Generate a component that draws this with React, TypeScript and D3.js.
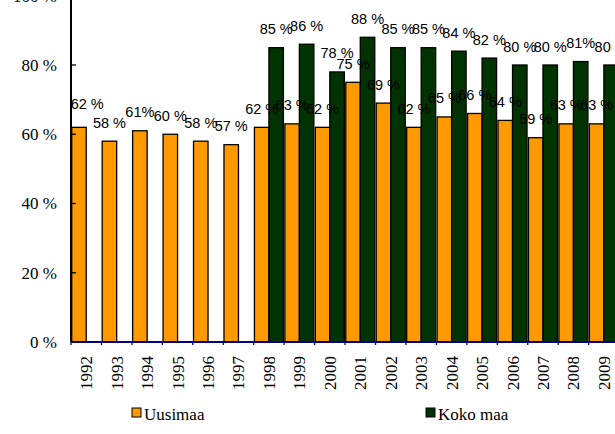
import React from "react";
import * as d3 from "d3";

const years = ["1992","1993","1994","1995","1996","1997","1998","1999","2000","2001","2002","2003","2004","2005","2006","2007","2008","2009"];
const uusimaa = [62,58,61,60,58,57,62,63,62,75,69,62,65,66,64,59,63,63];
const kokoMaa: (number | null)[] = [null,null,null,null,null,null,85,86,78,88,85,85,84,82,80,80,81,80];
const uusimaaLabels = ["62 %","58 %","61%","60 %","58 %","57 %","62 %","63 %","62 %","75 %","69 %","62 %","65 %","66 %","64 %","59 %","63 %","63 %"];
const kokoLabels = ["","","","","","","85 %","86 %","78 %","88 %","85 %","85 %","84 %","82 %","80 %","80 %","81%","80 %"];
const yTicks = [0,20,40,60,80,100];
const seriesNames = ["Uusimaa","Koko maa"];
const colors = ["#FF9900","#003300"];

export default function App() {
  const W = 615, H = 434;
  const x0 = 71, y0 = 342;
  const y = d3.scaleLinear().domain([0,100]).range([y0, y0 - 346.25]);
  const x = d3.scaleBand().domain(years).range([x0, x0 + 18 * 30.45]).paddingInner(0).paddingOuter(0);
  const bw = x.bandwidth() / 2.1;
  const off = bw * 0.05;
  const serif = "'Liberation Serif', 'Times New Roman', serif";
  const sans = "'Liberation Sans', Arial, sans-serif";
  const series = [uusimaa, kokoMaa];
  const labels = [uusimaaLabels, kokoLabels];
  const labelW = (s: string) => s.length * 7.6;
  return (
    <svg width={W} height={H} style={{ position: "absolute", left: 0, top: 0, background: "#fff" }}>
      {series.map((vals, si) =>
        vals.map((v, i) => {
          if (v == null) return null;
          const bx = (x(years[i]) as number) + off + si * bw;
          return (
            <rect key={`b${si}-${i}`} x={bx} y={y(v)} width={bw} height={y0 - y(v)}
              fill={colors[si]} stroke="#000" strokeWidth={1.3} />
          );
        })
      )}
      {/* y axis */}
      <line x1={x0} x2={x0} y1={-10} y2={y0} stroke="#000" strokeWidth={2} />
      {yTicks.map(t => (
        <g key={`yt${t}`}>
          <line x1={x0} x2={x0 + 5} y1={y(t)} y2={y(t)} stroke="#000" strokeWidth={1.3} />
          <text x={57} y={y(t)} dy="0.35em" textAnchor="end" fontFamily={serif} fontSize={17} fill="#000">{`${t} %`}</text>
        </g>
      ))}
      {/* x axis */}
      <line x1={x0} x2={W + 10} y1={y0} y2={y0} stroke="#000080" strokeWidth={2} />
      {years.map(yr => (
        <line key={`xt${yr}`} x1={x(yr) as number} x2={x(yr) as number} y1={y0} y2={y0 + 3} stroke="#000080" strokeWidth={1.3} />
      ))}
      {years.map(yr => {
        const cx = (x(yr) as number) + x.bandwidth() / 2;
        return (
          <text key={`xl${yr}`} transform={`translate(${cx + 6},${356}) rotate(-90)`} textAnchor="end"
            fontFamily={serif} fontSize={17} fill="#000">{yr}</text>
        );
      })}
      {/* data labels */}
      {series.map((vals, si) =>
        vals.map((v, i) => {
          if (v == null) return null;
          const txt = labels[si][i];
          let cx = (x(years[i]) as number) + off + si * bw + bw / 2;
          const half = labelW(txt) / 2;
          let ly = y(v) - 13.5;
          if (cx - half < x0 + 1) { cx = x0 + 1 + half; ly = y(v) - 18; }
          return (
            <text key={`l${si}-${i}`} x={cx} y={ly} textAnchor="middle"
              fontFamily={sans} fontSize={14.5} fill="#000">{txt}</text>
          );
        })
      )}
      {/* legend */}
      {seriesNames.map((n, i) => {
        const lx = i === 0 ? 132 : 426;
        return (
          <g key={`lg${n}`}>
            <rect x={lx} y={408} width={9} height={9} fill={colors[i]} stroke="#000" strokeWidth={1} />
            <text x={lx + 12} y={420} fontFamily={serif} fontSize={17} fill="#000">{n}</text>
          </g>
        );
      })}
    </svg>
  );
}
